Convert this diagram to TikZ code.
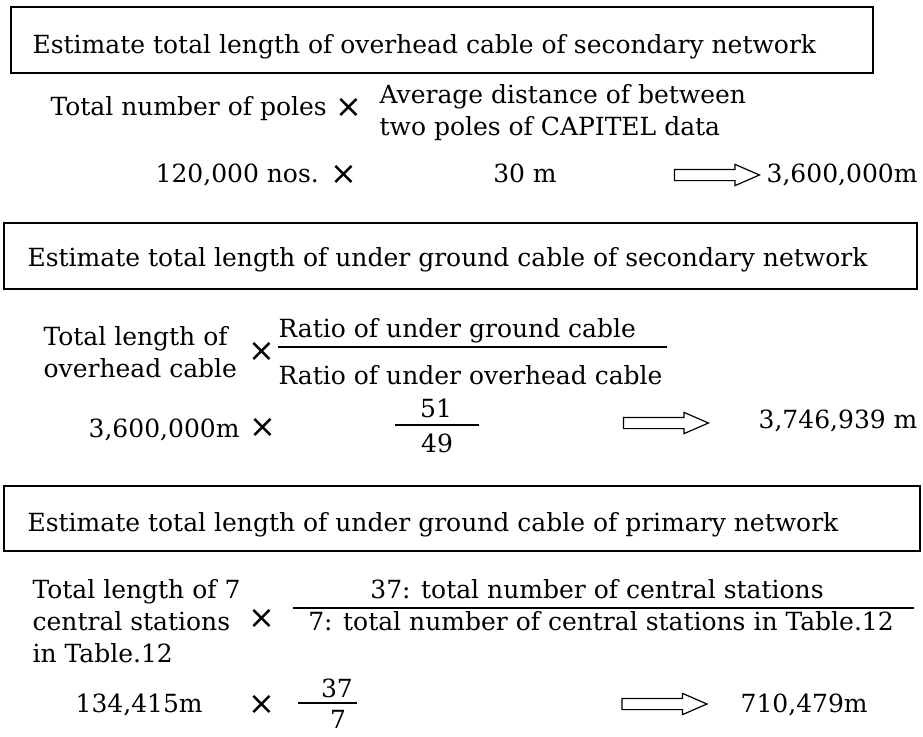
\documentclass[tikz,border=0pt]{standalone}
\usepackage{fontspec}
\setmainfont{DejaVu Serif}
\newfontfamily\crossfont{DejaVu Sans}
\usetikzlibrary{shapes.arrows, positioning}

\begin{document}
\begin{tikzpicture}[x=1pt, y=-1pt, line width=1.2pt,
    every node/.style={inner sep=0pt, font=\fontsize{25}{32}\selectfont},
    lbl/.style={anchor=base west},
    mid/.style={anchor=base},
    mul/.style={font=\fontsize{32}{32}\selectfont\crossfont},
    fat/.style={single arrow, draw, inner xsep=0pt, inner ysep=5pt,
        minimum height=85pt, minimum width=20pt,
        single arrow head extend=5pt, single arrow tip angle=47}]
    \useasboundingbox (0,0) rectangle (923,736);
    % overhead cable
    \draw (11,7) rectangle (873,73);
    \node[lbl] (head1) at (32,53) {Estimate total length of overhead cable of secondary network};
    \node[lbl] (poles) at (50,115) {Total number of poles};
    \node[mul] (x1) at (349,108) {×};
    \node[lbl] (avg1) at (379,103) {Average distance of between};
    \node[lbl] (avg2) at (379,135) {two poles of CAPITEL data};
    \node[lbl] (nos) at (155,182) {120,000 nos.};
    \node[mul] (x2) at (344,175) {×};
    \node[mid] (dist) at (525,182) {30 m};
    \node[fat] (arr1) at (710.5,175) {};
    \node[lbl] (res1) at (766,182) {3,600,000m};
    % under ground cable, secondary
    \draw (4,223) rectangle (917,289);
    \node[lbl] (head2) at (27,266) {Estimate total length of under ground cable of secondary network};
    \node[lbl] (oh1) at (43,345) {Total length of};
    \node[lbl] (oh2) at (43,377) {overhead cable};
    \node[mul] (x3) at (262,352) {×};
    \node[lbl] (ug) at (278,337) {Ratio of under ground cable};
    \draw (278,347) -- (667,347);
    \node[lbl] (ov) at (278,384) {Ratio of under overhead cable};
    \node[lbl] (len2) at (88,437) {3,600,000m};
    \node[mul] (x4) at (263,428) {×};
    \node[mid] (n51) at (436,417) {51};
    \draw (395,425) -- (479,425);
    \node[mid] (n49) at (437,452) {49};
    \node[fat] (arr2) at (659.5,423) {};
    \node[lbl] (res2) at (758,428) {3,746,939 m};
    % under ground cable, primary
    \draw (4,486) rectangle (920,551);
    \node[lbl] (head3) at (27,531) {Estimate total length of under ground cable of primary network};
    \node[lbl] (cs1) at (32,598) {Total length of 7};
    \node[lbl] (cs2) at (32,630) {central stations};
    \node[lbl] (cs3) at (32,662) {in Table.12};
    \node[mul] (x5) at (262,619) {×};
    \node[mid] (all) at (597,598) {37: total number of central stations};
    \draw (293,608) -- (914,608);
    \node[mid] (tab) at (601,630) {7: total number of central stations in Table.12};
    \node[lbl] (len3) at (75,712) {134,415m};
    \node[mul] (x6) at (262,705) {×};
    \node[mid] (n37) at (337,697) {37};
    \draw (298,703) -- (357,703);
    \node[mid] (n7) at (338,728) {7};
    \node[fat] (arr3) at (658,704) {};
    \node[lbl] (res3) at (740,712) {710,479m};
\end{tikzpicture}
\end{document}
